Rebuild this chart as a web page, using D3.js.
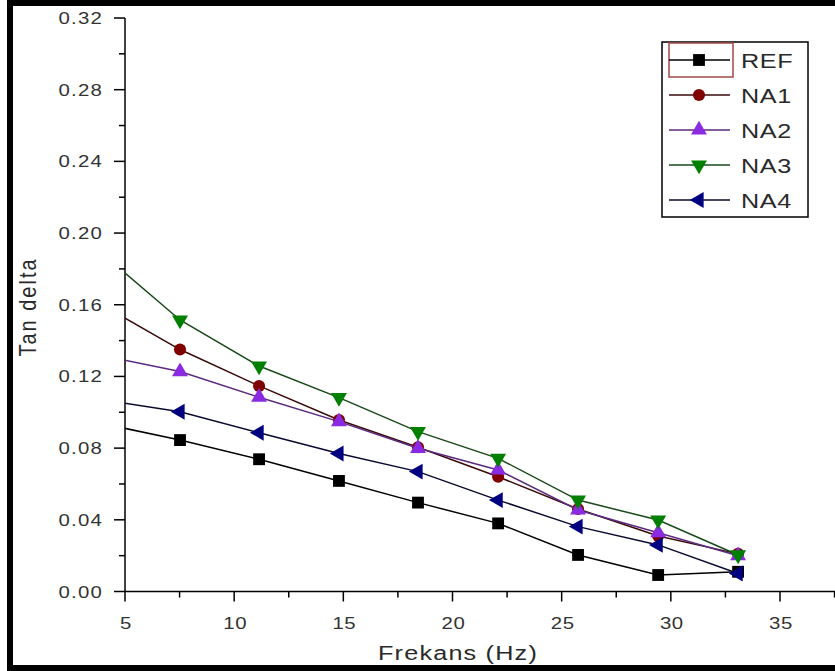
<!DOCTYPE html>
<html>
<head>
<meta charset="utf-8">
<script src="https://cdn.jsdelivr.net/npm/d3@7"></script>
<style>
  body { margin: 0; background: #fff; }
  text { font-family: "Liberation Sans", Arial, sans-serif; }
</style>
</head>
<body>
<svg id="chart" width="835" height="671"></svg>
<script>
// frequency (Hz); the first point sits left of the axis and is clipped
const freq = [3.85, 7.52, 11.14, 14.8, 18.42, 22.09, 25.75, 29.42, 33.08];

const ref = [0.094, 0.0845, 0.0738, 0.0617, 0.0496, 0.038, 0.0204, 0.0092, 0.011];
const na1 = [0.1605, 0.135, 0.1147, 0.0957, 0.0805, 0.064, 0.046, 0.031, 0.021];
const na2 = [0.1319, 0.1227, 0.1084, 0.0948, 0.0799, 0.0678, 0.0455, 0.0328, 0.02];
const na3 = [0.1896, 0.1515, 0.1258, 0.1082, 0.0892, 0.0743, 0.051, 0.0399, 0.0204];
const na4 = [0.1072, 0.1003, 0.0886, 0.077, 0.0669, 0.051, 0.0362, 0.026, 0.01];

const seriesNames = ['REF', 'NA1', 'NA2', 'NA3', 'NA4'];
const xTicks = [5, 10, 15, 20, 25, 30, 35];
const yTicks = [0, 0.04, 0.08, 0.12, 0.16, 0.2, 0.24, 0.28, 0.32];

const series = [
  { name: seriesNames[0], values: ref, color: '#000000', line: '#000000', shape: d3.symbolSquare, size: 140, rot: 0 },
  { name: seriesNames[1], values: na1, color: '#800000', line: '#3a0a0a', shape: d3.symbolCircle, size: 115, rot: 0 },
  { name: seriesNames[2], values: na2, color: '#8a2be2', line: '#5a2a80', shape: d3.symbolTriangle, size: 110, rot: 0 },
  { name: seriesNames[3], values: na3, color: '#008000', line: '#1a4a1a', shape: d3.symbolTriangle, size: 110, rot: 180 },
  { name: seriesNames[4], values: na4, color: '#000080', line: '#0a0a30', shape: d3.symbolTriangle, size: 110, rot: -90 }
];

const STRETCH = 1.2; // the original picture's text looks widened

const svg = d3.select('#chart');

// outer frame (right side is cut off in the original)
svg.append('rect')
  .attr('x', 10).attr('y', 3)
  .attr('width', 900).attr('height', 665)
  .attr('fill', 'none')
  .attr('stroke', '#000')
  .attr('stroke-width', 6);

const x = d3.scaleLinear().domain([5, 35]).range([125, 780]);
const y = d3.scaleLinear().domain([0, 0.32]).range([591.5, 18]);

svg.append('clipPath').attr('id', 'plot-clip')
  .append('rect')
  .attr('x', 125).attr('y', 10)
  .attr('width', 720).attr('height', 582);

function wideText(parent, tx, ty, anchor, size, spacing, str) {
  return parent.append('text')
    .attr('transform', 'translate(' + tx + ',' + ty + ') scale(' + STRETCH + ',1)')
    .attr('text-anchor', anchor)
    .attr('font-size', size)
    .attr('letter-spacing', spacing)
    .attr('fill', '#2a2a2a')
    .text(str);
}

// x axis
const xAxis = svg.append('g').attr('transform', 'translate(0,591.5)');
xAxis.append('line')
  .attr('x1', 125).attr('x2', 840)
  .attr('stroke', '#000').attr('stroke-width', 1.5);
xAxis.selectAll('.minor')
  .data(d3.range(7.5, 38, 5))
  .enter().append('line')
  .attr('x1', d => x(d)).attr('x2', d => x(d))
  .attr('y1', 0).attr('y2', 6)
  .attr('stroke', '#000').attr('stroke-width', 1.5);
xAxis.selectAll('.major')
  .data(xTicks)
  .enter().append('line')
  .attr('x1', d => x(d)).attr('x2', d => x(d))
  .attr('y1', 0).attr('y2', 10)
  .attr('stroke', '#000').attr('stroke-width', 1.5);
xTicks.forEach(function (d) {
  wideText(xAxis, x(d) + 1, 37, 'middle', 17, 0.5, d).attr('fill', '#333');
});

// y axis
const yAxis = svg.append('g').attr('transform', 'translate(125,0)');
yAxis.append('line')
  .attr('y1', y(0.32)).attr('y2', y(0))
  .attr('stroke', '#000').attr('stroke-width', 1.5);
yAxis.selectAll('.minor')
  .data(d3.range(0.02, 0.32, 0.04))
  .enter().append('line')
  .attr('x1', 0).attr('x2', -6)
  .attr('y1', d => y(d)).attr('y2', d => y(d))
  .attr('stroke', '#000').attr('stroke-width', 1.5);
yAxis.selectAll('.major')
  .data(yTicks)
  .enter().append('line')
  .attr('x1', 0).attr('x2', -11)
  .attr('y1', d => y(d)).attr('y2', d => y(d))
  .attr('stroke', '#000').attr('stroke-width', 1.5);
yTicks.forEach(function (d) {
  wideText(yAxis, -22, y(d) + 6, 'end', 17, 1, d3.format('.2f')(d)).attr('fill', '#333');
});

// axis titles
wideText(svg, 458, 660, 'middle', 21, 1, 'Frekans (Hz)');

svg.append('text')
  .attr('transform', 'translate(36,307) rotate(-90) scale(1,' + STRETCH + ')')
  .attr('text-anchor', 'middle')
  .attr('font-size', 20)
  .attr('letter-spacing', 2)
  .attr('fill', '#2a2a2a')
  .text('Tan delta');

// series
const plot = svg.append('g').attr('clip-path', 'url(#plot-clip)');
const line = d3.line()
  .x((d, i) => x(freq[i]))
  .y(d => y(d));

series.forEach(function (s) {
  const g = plot.append('g');
  g.append('path')
    .datum(s.values)
    .attr('d', line)
    .attr('fill', 'none')
    .attr('stroke', s.line)
    .attr('stroke-width', 1.5);
  g.selectAll('path.marker')
    .data(s.values)
    .enter().append('path')
    .attr('class', 'marker')
    .attr('d', d3.symbol().type(s.shape).size(s.size))
    .attr('transform', (d, i) => 'translate(' + x(freq[i]) + ',' + y(d) + ') rotate(' + s.rot + ')')
    .attr('fill', s.color);
});

// legend
const legend = svg.append('g');
legend.append('rect')
  .attr('x', 662).attr('y', 42)
  .attr('width', 146).attr('height', 175)
  .attr('fill', '#fff')
  .attr('stroke', '#000')
  .attr('stroke-width', 1.5);
legend.append('rect')
  .attr('x', 669).attr('y', 43)
  .attr('width', 64).attr('height', 34)
  .attr('fill', 'none')
  .attr('stroke', '#a04848')
  .attr('stroke-width', 1.5);

series.forEach(function (s, i) {
  const row = legend.append('g')
    .attr('transform', 'translate(0,' + (60 + i * 35) + ')');
  row.append('line')
    .attr('x1', 669).attr('x2', 730)
    .attr('stroke', s.line)
    .attr('stroke-width', 1.5);
  row.append('path')
    .attr('d', d3.symbol().type(s.shape).size(s.size)())
    .attr('transform', 'translate(699,0) rotate(' + s.rot + ')')
    .attr('fill', s.color);
  wideText(row, 741, 8, 'start', 21, 0.5, s.name);
});
</script>
</body>
</html>
